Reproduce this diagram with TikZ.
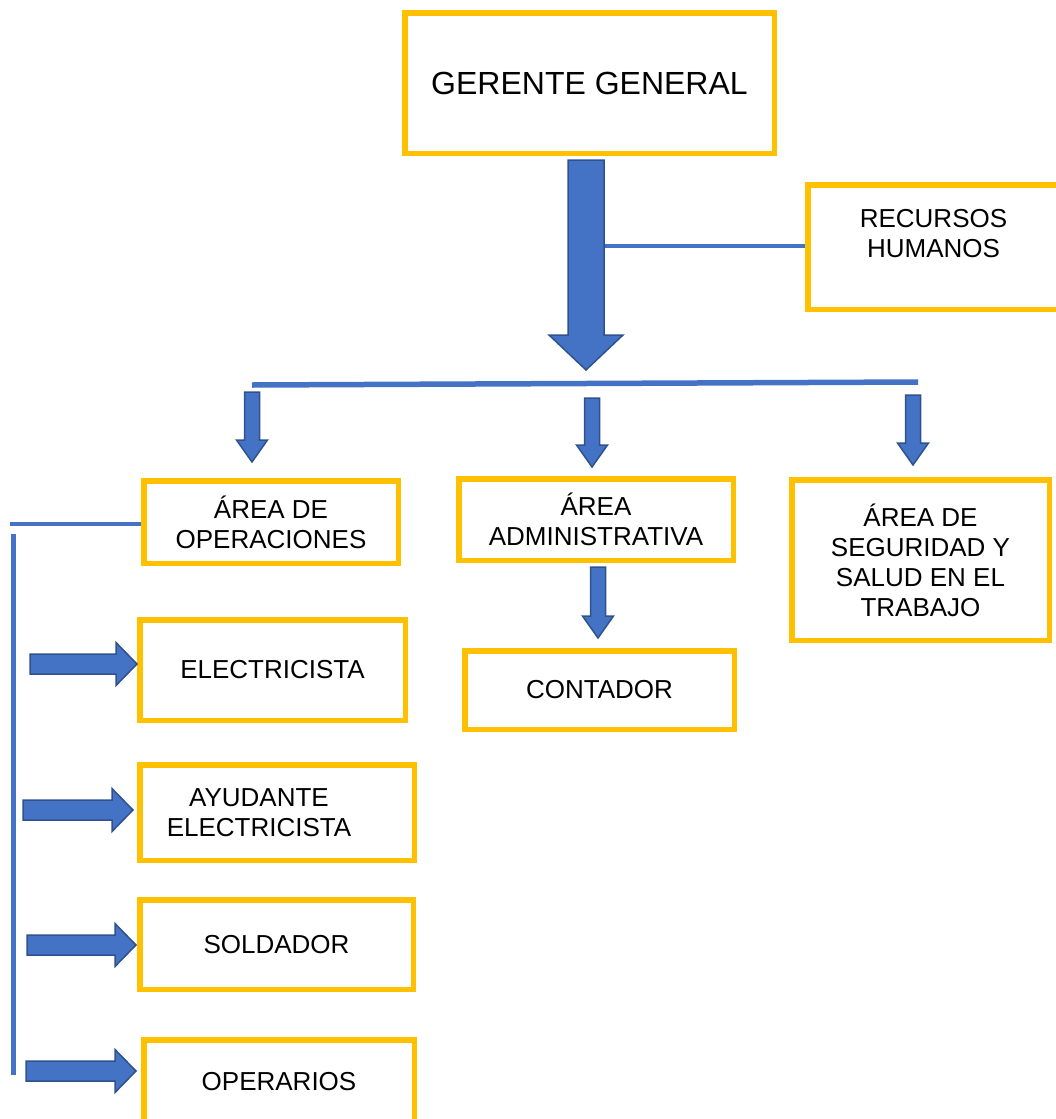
\documentclass[tikz,border=0pt]{standalone}
\usepackage{fontspec}
\setmainfont{Liberation Sans}
\usepackage{tikz}
\usetikzlibrary{calc}

\definecolor{amarillo}{HTML}{FFC000}
\definecolor{azul}{HTML}{4472C4}
\definecolor{azulosc}{HTML}{2F528F}

\tikzset{
  caja/.style={draw=amarillo,line width=5.5pt,rectangle,inner sep=0pt,align=center,
    font=\fontsize{26}{30}\selectfont},
  linea/.style={draw=azul,line width=4.5pt},
  flechaestilo/.style={fill=azul,draw=azulosc,line width=1.5pt,line join=miter}
}

% #1 start, #2 tip, #3 half shaft, #4 half head, #5 head length
\newcommand{\bloque}[5]{%
  \coordinate (fb) at ($(#2)!#5!(#1)$);
  \filldraw[flechaestilo] ($(#1)!#3!90:(#2)$) -- ($(fb)!#3!90:(#2)$) -- ($(fb)!#4!90:(#2)$)
    -- (#2) -- ($(fb)!#4!-90:(#2)$) -- ($(fb)!#3!-90:(#2)$) -- ($(#1)!#3!-90:(#2)$) -- cycle;
}

\begin{document}
\begin{tikzpicture}[x=1pt,y=-1pt]
			\useasboundingbox (0,0) rectangle (1055,1119);
			
			\node[caja,minimum width=369.5pt,minimum height=140.5pt,font=\fontsize{32}{36}\selectfont](ger)at(589.5,83) {GERENTE GENERAL};
			\node[caja,minimum width=251.5pt,minimum height=124.5pt,text depth=28pt](rh)at(933.5,247) {RECURSOS\\HUMANOS};
			\node[caja,minimum width=254.5pt,minimum height=82.5pt](ope)at(271,522) {ÁREA DE\\OPERACIONES};
			\node[caja,minimum width=274.5pt,minimum height=81.5pt](adm)at(596,519.5) {ÁREA\\ADMINISTRATIVA};
			\node[caja,minimum width=257.5pt,minimum height=160.5pt](seg)at(920.5,560) {ÁREA DE\\SEGURIDAD Y\\SALUD EN EL\\TRABAJO};
			\node[caja,minimum width=269.5pt,minimum height=78.5pt](con)at(599.5,690) {CONTADOR};
			\node[caja,minimum width=265.5pt,minimum height=100.5pt](ele)at(272.5,670) {ELECTRICISTA};
			\node[caja,minimum width=274.5pt,minimum height=95.5pt](ayu)at(277,812.5) {AYUDANTE\hspace*{36pt}\\ELECTRICISTA\hspace*{36pt}};
			\node[caja,minimum width=273.5pt,minimum height=89.5pt](sol)at(276.5,944.5) {SOLDADOR};
			\node[caja,minimum width=270.5pt,minimum height=84.5pt](opr)at(279,1082) {OPERARIOS};
			
			\coordinate (g1) at (586,160);
			\coordinate (g2) at (586,370);
			\coordinate (rhl) at (604,246);
			\coordinate (b1) at (252,385);
			\coordinate (b2) at (918,382);
			\coordinate (v1) at (13,534);
			\coordinate (v2) at (13,1075);
			\coordinate (h1) at (10,524);
			
			\draw[linea](rhl) -- (rhl -| rh.west);
			\draw[linea,line width=5.5pt](b1) -- (b2);
			\draw[linea](h1) -- (h1 -| ope.west);
			\draw[linea,line width=5pt](v1) -- (v2);
			
			\bloque{g1}{g2}{18pt}{37pt}{35pt}
			
			\coordinate (d1) at (252,392); \coordinate (d1p) at (252,462);
			\coordinate (d2) at (592,398); \coordinate (d2p) at (592,467);
			\coordinate (d3) at (913,395); \coordinate (d3p) at (913,465);
			\coordinate (d4) at (598,567); \coordinate (d4p) at (598,638);
			\bloque{d1}{d1p}{7.5pt}{15.5pt}{22pt}
			\bloque{d2}{d2p}{7.5pt}{15.5pt}{22pt}
			\bloque{d3}{d3p}{7.5pt}{15.5pt}{22pt}
			\bloque{d4}{d4p}{7.5pt}{15.5pt}{22pt}
			
			\coordinate (e1) at (30,664); \coordinate (e1p) at (137,664);
			\coordinate (e2) at (23,810); \coordinate (e2p) at (133,810);
			\coordinate (e3) at (27,945); \coordinate (e3p) at (136,945);
			\coordinate (e4) at (26,1071); \coordinate (e4p) at (136,1071);
			\bloque{e1}{e1p}{10pt}{21.5pt}{21pt}
			\bloque{e2}{e2p}{10pt}{21.5pt}{21pt}
			\bloque{e3}{e3p}{10pt}{21.5pt}{21pt}
			\bloque{e4}{e4p}{10pt}{21.5pt}{21pt}
		\end{tikzpicture}
\end{document}
